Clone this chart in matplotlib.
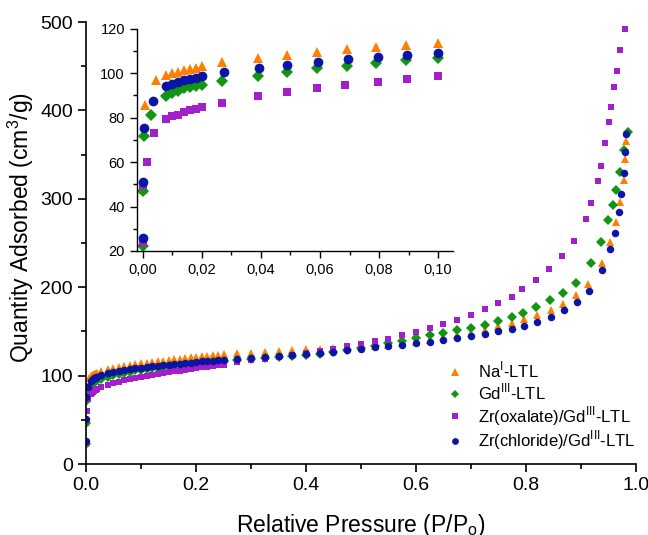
import matplotlib
matplotlib.use('Agg')
import matplotlib.pyplot as plt
from matplotlib.ticker import MultipleLocator, FuncFormatter

plt.rcParams['font.family'] = ['Liberation Sans', 'DejaVu Sans']
plt.rcParams['mathtext.fontset'] = 'custom'
plt.rcParams['mathtext.rm'] = 'Liberation Sans'

# relative pressure / quantity adsorbed
na_x = [0.0001, 0.0002, 0.0004, 0.0007, 0.0046, 0.008, 0.010, 0.012, 0.014, 0.016, 0.018, 0.020,
        0.027, 0.039, 0.049, 0.059, 0.069, 0.079, 0.089, 0.100,
        0.11, 0.12, 0.13, 0.14, 0.15, 0.16, 0.17, 0.18, 0.19, 0.20, 0.21, 0.22, 0.23, 0.24, 0.25,
        0.275, 0.30, 0.325, 0.35, 0.375, 0.40, 0.425, 0.45, 0.475, 0.50, 0.525, 0.55, 0.575, 0.60,
        0.625, 0.65, 0.675, 0.70, 0.725, 0.75, 0.775, 0.796,
        0.821, 0.845, 0.868, 0.892, 0.913, 0.938, 0.953, 0.964, 0.972, 0.978, 0.981, 0.983]
na_y = [24, 48, 73, 85.6, 97.2, 99.2, 100.2, 100.7, 101.4, 102.0, 102.6, 103.3,
        105.0, 107.0, 108.2, 109.6, 110.8, 112.0, 112.8, 113.8,
        114.6, 115.4, 116.2, 117.0, 117.8, 118.5, 119.2, 119.9, 120.6, 121.3, 122.0, 122.7, 123.3, 123.9, 124.5,
        125.2, 126.1, 127.0, 128.0, 128.9, 129.7, 130.4, 131.0, 131.5, 132.0, 133.4, 135.0, 136.8, 138.6,
        140.8, 143.2, 145.8, 148.5, 151.8, 155.6, 159.3, 164.0,
        168.4, 174.4, 181.2, 191.0, 203.8, 227.3, 251.0, 273.7, 297.0, 321.6, 345.0, 366.0]

gd_x = [0.0001, 0.0002, 0.0004, 0.0029, 0.008, 0.010, 0.012, 0.014, 0.016, 0.018, 0.020,
        0.027, 0.039, 0.049, 0.059, 0.069, 0.079, 0.089, 0.100,
        0.11, 0.12, 0.13, 0.14, 0.15, 0.16, 0.17, 0.18, 0.19, 0.20, 0.21, 0.22, 0.23, 0.24, 0.25,
        0.275, 0.30, 0.325, 0.35, 0.375, 0.40, 0.425, 0.45, 0.475, 0.50, 0.525, 0.55, 0.575, 0.60,
        0.625, 0.65, 0.675, 0.70, 0.725, 0.75, 0.775, 0.795,
        0.819, 0.844, 0.868, 0.891, 0.918, 0.937, 0.950, 0.958, 0.965, 0.971, 0.978, 0.986]
gd_y = [22.3, 46.8, 71.6, 81.4, 89.8, 90.9, 92.1, 93.2, 93.9, 94.4, 94.8,
        96.6, 99.0, 100.5, 102.2, 103.4, 104.6, 105.8, 106.9,
        107.7, 108.4, 109.1, 109.8, 110.5, 111.1, 111.7, 112.3, 112.9, 113.5, 114.1, 114.7, 115.3, 115.8, 116.3,
        117.3, 118.5, 119.7, 120.9, 122.1, 123.4, 124.8, 126.4, 128.5, 131.0, 134.0, 136.8, 139.6, 142.7,
        145.7, 148.4, 151.4, 154.0, 157.4, 161.6, 166.5, 171.4,
        177.5, 185.0, 194.0, 205.3, 227.6, 251.4, 276.0, 292.5, 310.3, 330.0, 354.8, 375.6]

zro_x = [0.0001, 0.0002, 0.0015, 0.0037, 0.008, 0.010, 0.012, 0.014, 0.016, 0.018, 0.020,
         0.027, 0.039, 0.049, 0.059, 0.0685, 0.0796, 0.0893, 0.100,
         0.11, 0.12, 0.13, 0.14, 0.15, 0.16, 0.17, 0.18, 0.19, 0.20, 0.21, 0.22, 0.23, 0.24, 0.25,
         0.275, 0.30, 0.325, 0.35, 0.375, 0.40, 0.425, 0.45, 0.475, 0.50, 0.525, 0.55, 0.575, 0.60,
         0.625, 0.65, 0.675, 0.70, 0.725, 0.75, 0.775, 0.794,
         0.818, 0.842, 0.866, 0.887, 0.909, 0.919, 0.931, 0.936, 0.945, 0.951, 0.955, 0.961,
         0.966, 0.972, 0.981]
zro_y = [23.8, 49.9, 60.0, 73.1, 79.4, 80.6, 81.4, 82.4, 83.3, 83.9, 84.7,
         86.8, 89.7, 91.5, 93.3, 94.8, 96.3, 97.5, 98.9,
         100.0, 101.0, 102.0, 102.9, 103.8, 104.7, 105.6, 106.5, 107.4, 108.3, 109.2, 110.0, 110.8, 111.6, 112.4,
         115.0, 117.3, 119.2, 121.0, 123.0, 125.2, 127.8, 130.6, 133.2, 135.9, 139.0, 141.9, 145.7, 149.5,
         154.0, 158.5, 163.4, 169.0, 175.2, 182.0, 189.1, 197.8,
         208.4, 220.5, 234.8, 252.5, 277.0, 295.0, 319.7, 337.5, 363.0, 386.5, 404.0, 426.6,
         445.0, 468.0, 492.0]

zrc_x = [0.0001, 0.0002, 0.0003, 0.0035, 0.008, 0.010, 0.012, 0.014, 0.016, 0.018, 0.020,
         0.0275, 0.0394, 0.049, 0.0594, 0.0696, 0.0798, 0.0896, 0.100,
         0.11, 0.12, 0.13, 0.14, 0.15, 0.16, 0.17, 0.18, 0.19, 0.20, 0.21, 0.22, 0.23, 0.24, 0.25,
         0.275, 0.30, 0.325, 0.35, 0.375, 0.40, 0.425, 0.45, 0.475, 0.50, 0.525, 0.55, 0.575, 0.60,
         0.625, 0.65, 0.675, 0.70, 0.725, 0.75, 0.775, 0.796,
         0.821, 0.845, 0.869, 0.893, 0.915, 0.939, 0.954, 0.962, 0.969, 0.974, 0.978, 0.981, 0.983]
zrc_y = [26.0, 50.9, 75.5, 87.3, 94.2, 95.2, 96.0, 96.8, 97.5, 98.1, 98.7,
         100.4, 102.5, 103.7, 105.0, 106.3, 107.3, 108.2, 109.0,
         109.7, 110.4, 111.1, 111.8, 112.4, 113.0, 113.6, 114.2, 114.8, 115.4, 116.0, 116.5, 117.0, 117.5, 118.0,
         118.8, 119.8, 120.8, 121.8, 122.8, 124.2, 125.6, 127.0, 128.6, 130.2, 132.1, 133.6, 135.0, 136.4,
         138.2, 140.0, 142.2, 144.6, 147.2, 150.3, 153.2, 156.6,
         161.0, 166.8, 174.0, 183.0, 196.0, 219.3, 243.0, 261.0, 285.4, 305.0, 329.0, 353.3, 373.7]

series = [
    (na_x, na_y, '^', '#FF8000', 'Na$^\\mathregular{I}$-LTL', 6.0),
    (gd_x, gd_y, 'D', '#129612', 'Gd$^\\mathregular{III}$-LTL', 4.6),
    (zro_x, zro_y, 's', '#A31FCB', 'Zr(oxalate)/Gd$^\\mathregular{III}$-LTL', 4.8),
    (zrc_x, zrc_y, 'o', '#0A14A5', 'Zr(chloride)/Gd$^\\mathregular{III}$-LTL', 5.4),
]

fig = plt.figure(figsize=(6.48, 5.35), dpi=100)
ax = fig.add_axes([0.133, 0.1327, 0.848, 0.826])
for x, y, m, c, lab, ms in series:
    ax.plot(x, y, linestyle='none', marker=m, color=c, markersize=ms, markeredgewidth=0, label=lab)

ax.set_xlim(0, 1.0)
ax.set_ylim(0, 500)
ax.xaxis.set_major_locator(MultipleLocator(0.2))
ax.xaxis.set_minor_locator(MultipleLocator(0.1))
ax.yaxis.set_major_locator(MultipleLocator(100))
ax.yaxis.set_minor_locator(MultipleLocator(50))
ax.spines['top'].set_visible(False)
ax.spines['right'].set_visible(False)
for s in ['left', 'bottom']:
    ax.spines[s].set_linewidth(1.2)
ax.tick_params(which='major', direction='out', length=6, width=1.2, labelsize=14)
ax.tick_params(which='minor', direction='out', length=3.5, width=1.2)
ax.xaxis.set_major_formatter(FuncFormatter(lambda v, p: '%.1f' % v))
ax.set_xlabel('Relative Pressure (P/P$_\\mathregular{o}$)', fontsize=16.5, labelpad=13)
ax.set_ylabel('Quantity Adsorbed (cm$^\\mathregular{3}$/g)', fontsize=16.5)
ax.yaxis.set_label_coords(-0.092, 0.534)

ax.legend(loc='upper left', bbox_to_anchor=(0.668, 0.355), bbox_transform=fig.transFigure,
          frameon=False, fontsize=12, handlelength=0.8, handletextpad=1.0,
          labelspacing=0.08, markerscale=0.9)

# inset, low pressure region
ins = fig.add_axes([0.211, 0.531, 0.488, 0.415])
for x, y, m, c, lab, ms in series:
    ins.plot(x, y, linestyle='none', marker=m, color=c, markersize=ms + 1.6, markeredgewidth=0)
ins.set_xlim(-0.002, 0.105)
ins.set_ylim(20, 120)
ins.xaxis.set_major_locator(MultipleLocator(0.02))
ins.xaxis.set_minor_locator(MultipleLocator(0.01))
ins.yaxis.set_major_locator(MultipleLocator(20))
ins.yaxis.set_minor_locator(MultipleLocator(10))
ins.spines['top'].set_visible(False)
ins.spines['right'].set_visible(False)
for s in ['left', 'bottom']:
    ins.spines[s].set_linewidth(1.0)
ins.tick_params(which='major', direction='out', length=5, width=1.0, labelsize=10.5)
ins.tick_params(which='minor', direction='out', length=3, width=1.0)
ins.xaxis.set_major_formatter(FuncFormatter(lambda v, p: ('%.2f' % v).replace('.', ',')))
ins.set_facecolor('none')

fig.savefig('out.png', dpi=100)
